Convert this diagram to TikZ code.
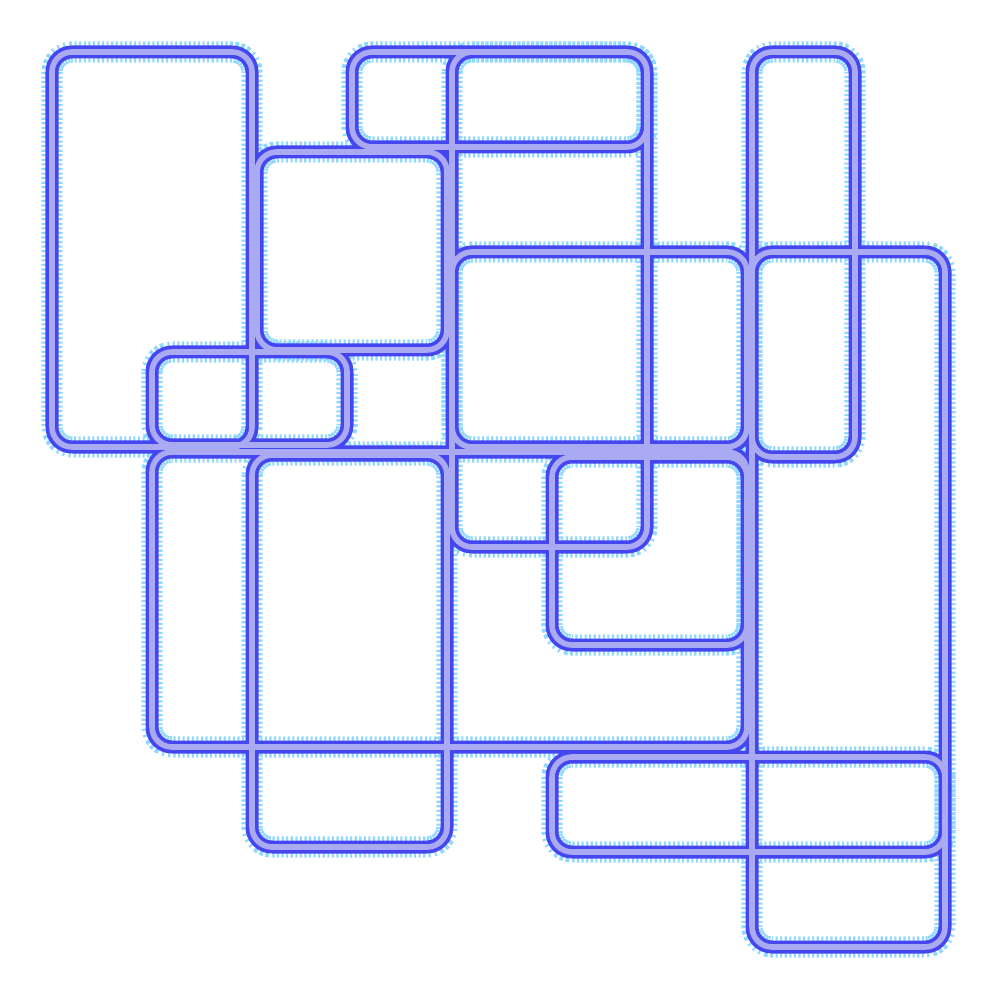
\documentclass[tikz,border=0pt]{standalone}
\usepackage{tikz}
\definecolor{cglow}{HTML}{8FD8FF}
\definecolor{cedge}{HTML}{4646F0}
\definecolor{cfill}{HTML}{AAAAF2}

% corners of the loops: top-left / bottom-right (y runs down)
\newcommand{\looplist}{%
    0.52/0.52/2.52/4.47,   % tall left
    3.52/0.52/6.47/1.47,   % top strip
    4.52/0.52/6.47/5.47,   % top middle column
    2.57/1.52/4.47/3.50,   % upper square
    7.52/0.52/8.55/4.57,   % narrow right
    4.52/2.52/7.47/4.47,   % middle block
    7.52/2.52/9.45/9.47,   % tall right
    1.52/3.52/3.47/4.45,   % small left
    1.52/4.52/7.47/7.47,   % wide lower
    2.52/4.55/4.47/8.47,   % lower column
    5.52/4.57/7.47/6.45,   % lower square
    5.52/7.57/9.45/8.52}   % bottom strip

\begin{document}
\begin{tikzpicture}[
    yscale=-1,
    tube/.style={rounded corners=0.2cm, line join=round,
        draw=cedge, line width=1.05pt, double=cfill, double distance=1.6pt,
        preaction={draw=cglow, line width=6pt, dash pattern=on 0.6pt off 0.7pt}},
]
\useasboundingbox (0,0) rectangle (10,10);

% --- all loops in one path, so the crossings merge ---
\path[tube] foreach \xa/\ya/\xb/\yb in \looplist {
    (\xa,\ya) rectangle (\xb,\yb)
};

\end{tikzpicture}
\end{document}
